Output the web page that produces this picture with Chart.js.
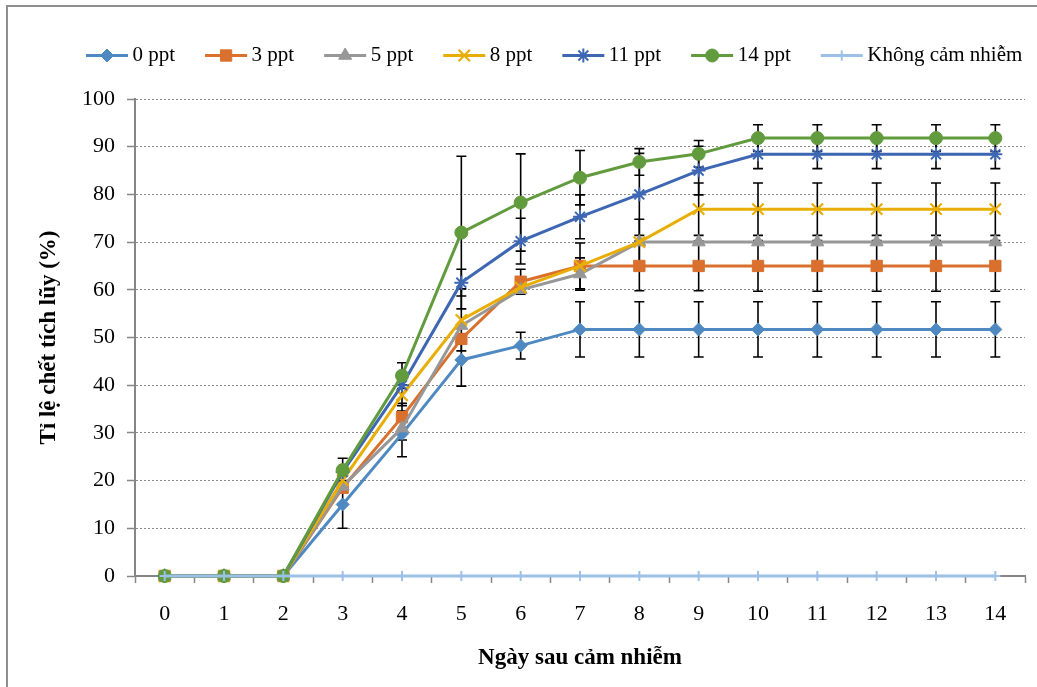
<!DOCTYPE html>
<html>
<head>
<meta charset="utf-8">
<script src="https://cdn.jsdelivr.net/npm/chart.js@4.4.1/dist/chart.umd.min.js"></script>
<style>
html,body{margin:0;padding:0;background:#fff;}
#wrap{width:1037px;height:687px;position:relative;}
</style>
</head>
<body>
<div id="wrap"><canvas id="c"></canvas></div>
<script>
// ---- Data ----
const days = ['0','1','2','3','4','5','6','7','8','9','10','11','12','13','14'];
const seriesNames = ['0 ppt','3 ppt','5 ppt','8 ppt','11 ppt','14 ppt','Không cảm nhiễm'];

const ppt0  = [0,0,0,15.0,29.8,45.3,48.3,51.7,51.7,51.7,51.7,51.7,51.7,51.7,51.7];
const ppt3  = [0,0,0,18.5,33.3,49.7,61.7,65.0,65.0,65.0,65.0,65.0,65.0,65.0,65.0];
const ppt5  = [0,0,0,18.8,31.0,52.5,60.0,63.3,70.0,70.0,70.0,70.0,70.0,70.0,70.0];
const ppt8  = [0,0,0,20.1,37.9,53.7,60.5,65.0,70.0,76.9,76.9,76.9,76.9,76.9,76.9];
const ppt11 = [0,0,0,21.8,40.0,61.5,70.2,75.3,80.0,85.0,88.4,88.4,88.4,88.4,88.4];
const ppt14 = [0,0,0,22.2,42.0,72.0,78.3,83.5,86.8,88.5,91.8,91.8,91.8,91.8,91.8];
const control = [0,0,0,0,0,0,0,0,0,0,0,0,0,0,0];

const err0  = [0,0,0,5.0,4.8,5.5,2.8,5.8,5.8,5.8,5.8,5.8,5.8,5.8,5.8];
const err3  = [0,0,0,0,2.9,0,2.6,4.8,5.2,5.2,5.3,5.3,5.3,5.3,5.3];
const err5  = [0,0,0,0,2.5,0,0,3.4,0,0,0,0,0,0,0];
const err8  = [0,0,0,0,2.2,6.5,0,0,4.8,5.5,5.5,5.5,5.5,5.5,5.5];
const err11 = [0,0,0,0,0,2.8,4.8,4.6,8.6,5.1,3.0,3.0,3.0,3.0,3.0];
const err14 = [0,0,0,2.5,2.7,16.0,10.2,5.7,2.8,2.8,2.8,2.8,2.8,2.8,2.8];
const errControl = [0,0,0,0,0,0,0,0,0,0,0,0,0,0,0];

const seriesValues = [ppt0, ppt3, ppt5, ppt8, ppt11, ppt14, control];
const seriesErrors = [err0, err3, err5, err8, err11, err14, errControl];

// ---- Styles ----
const colors = ['#4F89C1','#D9702D','#979797','#E9AE06','#3E67B3','#629B3E','#9DC0E6'];
const pStyles = ['rectRot','rect','triangle','crossRot','star','circle','cross'];
const pRadius = [6.5, 8, 7.5, 8, 7, 6.5, 5];
const pBorder = [1, 1, 1, 2.2, 2, 1, 2];
const SERIF = "'Liberation Serif','Times New Roman',serif";

const datasets = seriesNames.map((name, i) => ({
  label: name,
  data: seriesValues[i],
  errorBars: seriesErrors[i],
  borderColor: colors[i],
  backgroundColor: colors[i],
  borderWidth: 3,
  pointStyle: pStyles[i],
  pointRadius: pRadius[i],
  pointHoverRadius: pRadius[i],
  pointBorderWidth: pBorder[i],
  pointBackgroundColor: colors[i],
  pointBorderColor: colors[i],
  tension: 0,
  fill: false,
  clip: false,
  order: seriesNames.length - 1 - i
}));

// ---- Plugins ----
const frame = {
  id: 'frame',
  beforeDraw(chart) {
    const ctx = chart.ctx;
    ctx.save();
    ctx.fillStyle = '#fff';
    ctx.fillRect(0, 0, chart.width, chart.height);
    ctx.restore();
  },
  afterDraw(chart) {
    const ctx = chart.ctx;
    ctx.save();
    ctx.strokeStyle = '#8e8e8e';
    ctx.lineWidth = 2;
    ctx.beginPath();
    ctx.moveTo(7, chart.height + 5);
    ctx.lineTo(7, 6);
    ctx.lineTo(chart.width + 5, 6);
    ctx.stroke();
    ctx.restore();
  }
};

const legendPlace = {
  id: 'legendPlace',
  afterLayout(chart) {
    const lg = chart.legend;
    if (!lg) return;
    const dx = 86 - (lg.left + lg.options.labels.padding);
    const dy = 15 - lg.top;
    lg.left += dx; lg.right += dx; lg.top += dy; lg.bottom += dy;
  }
};

const legendMarkers = {
  id: 'legendMarkers',
  afterDraw(chart) {
    const lg = chart.legend;
    if (!lg || !lg.legendHitBoxes) return;
    const ctx = chart.ctx;
    lg.legendItems.forEach((item, k) => {
      const hb = lg.legendHitBoxes[k];
      const ds = chart.data.datasets[item.datasetIndex];
      const y = hb.top + hb.height / 2;
      ctx.save();
      ctx.strokeStyle = ds.borderColor;
      ctx.lineWidth = ds.borderWidth;
      ctx.beginPath();
      ctx.moveTo(hb.left, y);
      ctx.lineTo(hb.left + 42, y);
      ctx.stroke();
      ctx.fillStyle = ds.pointBackgroundColor;
      ctx.strokeStyle = ds.pointBorderColor;
      ctx.lineWidth = ds.pointBorderWidth;
      Chart.helpers.drawPoint(ctx, {
        pointStyle: ds.pointStyle, radius: ds.pointRadius, rotation: 0, borderWidth: ds.pointBorderWidth
      }, hb.left + 21, y);
      ctx.restore();
    });
  }
};

const errorBars = {
  id: 'errorBars',
  beforeDatasetsDraw(chart) {
    const ctx = chart.ctx;
    const xs = chart.scales.x, ys = chart.scales.y;
    ctx.save();
    ctx.strokeStyle = '#000';
    ctx.lineWidth = 1.6;
    chart.data.datasets.forEach((ds) => {
      const errs = ds.errorBars || [];
      ds.data.forEach((v, i) => {
        const e = errs[i];
        if (!e) return;
        const x = xs.getPixelForValue(i);
        const yt = ys.getPixelForValue(v + e);
        const yb = ys.getPixelForValue(v - e);
        ctx.beginPath();
        ctx.moveTo(x, yt); ctx.lineTo(x, yb);
        ctx.moveTo(x - 5, yt); ctx.lineTo(x + 5, yt);
        ctx.moveTo(x - 5, yb); ctx.lineTo(x + 5, yb);
        ctx.stroke();
      });
    });
    ctx.restore();
  }
};

new Chart(document.getElementById('c'), {
  type: 'line',
  data: { labels: days, datasets: datasets },
  plugins: [frame, legendPlace, errorBars, legendMarkers],
  options: {
    responsive: true,
    maintainAspectRatio: false,
    animation: false,
    layout: { padding: { top: 38, right: 12, left: 0, bottom: 0 } },
    plugins: {
      tooltip: { enabled: false },
      legend: {
        display: true,
        position: 'top',
        align: 'start',
        labels: {
          boxWidth: 36,
          boxHeight: 4,
          padding: 30,
          color: '#000',
          font: { family: SERIF, size: 21 },
          sort: (a, b) => a.datasetIndex - b.datasetIndex,
          generateLabels(chart) {
            const items = Chart.defaults.plugins.legend.labels.generateLabels(chart);
            items.forEach(it => {
              it.fillStyle = 'rgba(0,0,0,0)';
              it.strokeStyle = 'rgba(0,0,0,0)';
              it.lineWidth = 0;
            });
            return items;
          }
        }
      }
    },
    scales: {
      x: {
        type: 'category',
        offset: true,
        grid: {
          offset: true,
          drawOnChartArea: false,
          drawTicks: true,
          tickLength: 7,
          tickColor: '#868686',
          tickWidth: 1.5
        },
        border: { display: true, color: '#868686', width: 2 },
        ticks: {
          color: '#000',
          padding: 18,
          maxRotation: 0,
          autoSkip: false,
          font: { family: SERIF, size: 22 }
        },
        title: {
          display: true,
          text: 'Ngày sau cảm nhiễm',
          color: '#000',
          font: { family: SERIF, size: 23, weight: 'bold' },
          padding: { top: 0, bottom: 15 }
        },
        afterFit(scale) { scale.height = 111; }
      },
      y: {
        min: 0,
        max: 100,
        ticks: {
          stepSize: 10,
          color: '#000',
          padding: 12,
          font: { family: SERIF, size: 22 }
        },
        grid: {
          color: '#8a8a8a',
          lineWidth: 1,
          drawTicks: true,
          tickLength: 8,
          tickColor: '#868686',
          tickWidth: 1.5
        },
        border: { display: true, color: '#868686', width: 2, dash: [2, 2] },
        title: {
          display: true,
          text: 'Tỉ lệ chết tích lũy (%)',
          color: '#000',
          font: { family: SERIF, size: 23, weight: 'bold' },
          padding: { top: 35, bottom: 0 }
        },
        afterFit(scale) { scale.width = 135; }
      }
    }
  }
});
</script>
</body>
</html>
